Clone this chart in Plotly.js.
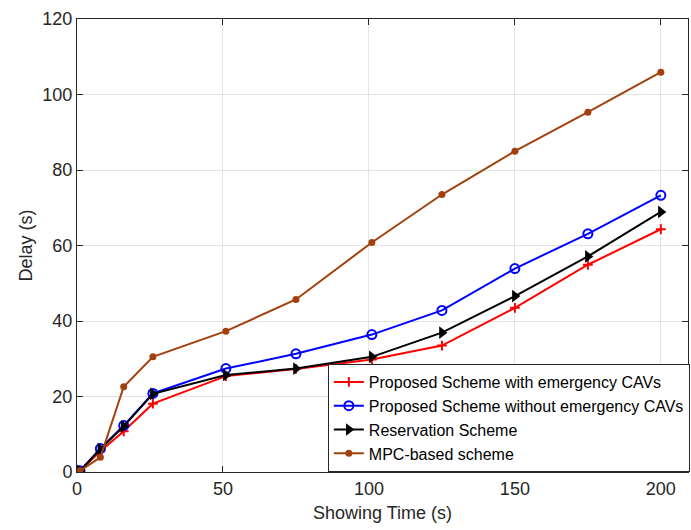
<!DOCTYPE html>
<html>
<head>
<meta charset="utf-8">
<script src="https://cdn.plot.ly/plotly-3.0.1.min.js"></script>
<style>html,body{margin:0;padding:0;background:#fff}#chart{width:691px;height:530px}</style>
</head>
<body>
<div id="chart"></div>
<script>
const showingTime = [1, 8, 16, 26, 51, 75, 101, 125, 150, 175, 200];
const withEmergency = [0.3, 5.5, 10.8, 18.1, 25.4, 27.3, 29.8, 33.5, 43.5, 54.9, 64.3];
const withoutEmergency = [0.3, 6.2, 12.3, 20.8, 27.4, 31.3, 36.4, 42.8, 53.9, 63.1, 73.3];
const reservation = [0.3, 6.1, 12.1, 20.7, 25.7, 27.4, 30.5, 36.9, 46.6, 57.1, 68.9];
const mpcBased = [0.3, 3.9, 22.6, 30.5, 37.3, 45.7, 60.8, 73.5, 85.0, 95.3, 105.9];
const seriesNames = ["Proposed Scheme with emergency CAVs", "Proposed Scheme without emergency CAVs", "Reservation Scheme", "MPC-based scheme"];
const xTicks = [0, 50, 100, 150, 200];
const yTicks = [0, 20, 40, 60, 80, 100, 120];

const font = "Liberation Sans, Arial, Helvetica, sans-serif";
const axisColor = "#262626";

const traces = [
  {x: showingTime, y: withEmergency, name: seriesNames[0], mode: "lines+markers",
   line: {color: "#FF0000", width: 2},
   marker: {symbol: "cross-thin", size: 7, color: "#FF0000", line: {color: "#FF0000", width: 2}}},
  {x: showingTime, y: withoutEmergency, name: seriesNames[1], mode: "lines+markers",
   line: {color: "#0000FF", width: 2},
   marker: {symbol: "circle-open", size: 9, color: "#0000FF", line: {color: "#0000FF", width: 2}}},
  {x: showingTime, y: reservation, name: seriesNames[2], mode: "lines+markers",
   line: {color: "#000000", width: 2},
   marker: {symbol: "triangle-right", size: 11, color: "#000000"}},
  {x: showingTime, y: mpcBased, name: seriesNames[3], mode: "lines+markers",
   line: {color: "#A2400E", width: 2},
   marker: {symbol: "circle", size: 7, color: "#A2400E"}}
];

const layout = {
  width: 691, height: 530,
  margin: {l: 77, r: 1, t: 19, b: 58},
  paper_bgcolor: "#fff", plot_bgcolor: "#fff",
  font: {family: font, color: axisColor, size: 18},
  showlegend: true,
  xaxis: {
    range: [0, 209.3], tickvals: xTicks, ticktext: xTicks.map(String),
    showgrid: true, gridcolor: "#E3E3E3", gridwidth: 1,
    zeroline: false, showline: true, linecolor: axisColor, linewidth: 1, mirror: "ticks",
    ticks: "inside", ticklen: 6, tickcolor: axisColor,
    tickfont: {size: 18, color: axisColor, family: font},
    title: {text: "Showing Time (s)", font: {size: 18, color: axisColor, family: font}, standoff: 8}
  },
  yaxis: {
    range: [0, 120], tickvals: yTicks, ticktext: yTicks.map(String),
    showgrid: true, gridcolor: "#E3E3E3", gridwidth: 1,
    zeroline: false, showline: true, linecolor: axisColor, linewidth: 1, mirror: "ticks",
    ticks: "inside", ticklen: 6, tickcolor: axisColor,
    tickfont: {size: 18, color: axisColor, family: font},
    title: {text: "Delay (s)", font: {size: 18, color: axisColor, family: font}, standoff: 5}
  },
  legend: {
    x: 1.003, y: 0, xanchor: "right", yanchor: "bottom",
    bgcolor: "#fff", bordercolor: axisColor, borderwidth: 1,
    font: {size: 16, color: "#000", family: font},
    tracegroupgap: 0, itemwidth: 30
  }
};

Plotly.newPlot("chart", traces, layout, {displayModeBar: false, staticPlot: true});
</script>
</body>
</html>
